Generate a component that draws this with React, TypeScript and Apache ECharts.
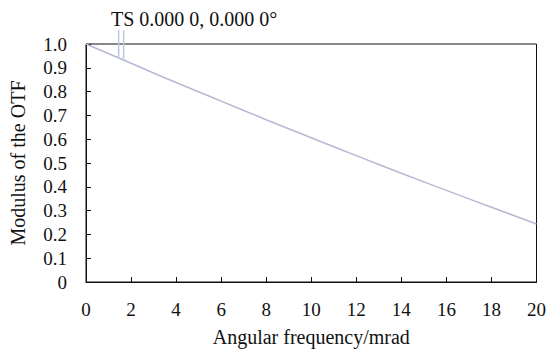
import React, { useEffect, useRef } from "react";
import * as echarts from "echarts";

const frequencies = [0, 2, 4, 6, 8, 10, 12, 14, 16, 18, 20];
const modulus = [1.0, 0.919, 0.838, 0.76, 0.682, 0.606, 0.531, 0.457, 0.385, 0.314, 0.244];
const titleText = "TS 0.000 0, 0.000 0°";
const xName = "Angular frequency/mrad";
const yName = "Modulus of the OTF";
const markerFreqs = [1.45, 1.67];
const markerBottoms = [0.941, 0.932];
const markerTop = 1.058;

const FONT = "Liberation Serif, Times New Roman, serif";

export default function App() {
  const ref = useRef<HTMLDivElement>(null);
  useEffect(() => {
    if (!ref.current) return;
    const chart = echarts.init(ref.current, null, { renderer: "svg" });
    chart.setOption({
      animation: false,
      backgroundColor: "#fff",
      textStyle: { fontFamily: FONT },
      title: {
        text: titleText,
        left: 106,
        top: 4,
        textStyle: { fontFamily: FONT, fontSize: 20, fontWeight: "normal", color: "#111" },
      },
      grid: {
        left: 83,
        right: 12,
        top: 44,
        bottom: 68,
        show: true,
        borderColor: "#111",
        borderWidth: 1,
        backgroundColor: "transparent",
      },
      xAxis: {
        type: "value",
        min: 0,
        max: 20,
        interval: 2,
        name: xName,
        nameLocation: "middle",
        nameGap: 45,
        nameTextStyle: { fontFamily: FONT, fontSize: 20, color: "#111" },
        axisLine: { show: true, lineStyle: { color: "#111", width: 1 } },
        axisTick: { show: true, inside: true, length: 5, lineStyle: { color: "#111" } },
        axisLabel: { fontFamily: FONT, fontSize: 19, color: "#111", margin: 18 },
        splitLine: { show: false },
      },
      yAxis: {
        type: "value",
        min: 0,
        max: 1,
        interval: 0.1,
        name: yName,
        nameLocation: "middle",
        nameGap: 58,
        nameTextStyle: { fontFamily: FONT, fontSize: 20, color: "#111" },
        axisLine: { show: true, lineStyle: { color: "#111", width: 1 } },
        axisTick: { show: true, inside: true, length: 5, lineStyle: { color: "#111" } },
        axisLabel: {
          fontFamily: FONT,
          fontSize: 19,
          color: "#111",
          margin: 19,
          formatter: (v: number) => (v === 0 ? "0" : v.toFixed(1)),
        },
        splitLine: { show: false },
      },
      series: [
        {
          type: "line",
          data: frequencies.map((f, i) => [f, modulus[i]]),
          showSymbol: false,
          smooth: true,
          lineStyle: { color: "#b6b9d2", width: 1.5 },
        },
      ],
    });
    const lines = markerFreqs.map((f, i) => {
      const top = chart.convertToPixel({ gridIndex: 0 }, [f, markerTop]) as number[];
      const bot = chart.convertToPixel({ gridIndex: 0 }, [f, markerBottoms[i]]) as number[];
      return {
        type: "line",
        shape: { x1: top[0], y1: top[1], x2: bot[0], y2: bot[1] },
        style: { stroke: "#bcc6de", lineWidth: 1.5 },
        z: 10,
      };
    });
    chart.setOption({ graphic: lines });
    return () => chart.dispose();
  }, []);
  return (
    <div
      ref={ref}
      style={{ position: "absolute", left: 0, top: 0, width: 549, height: 352 }}
    />
  );
}
